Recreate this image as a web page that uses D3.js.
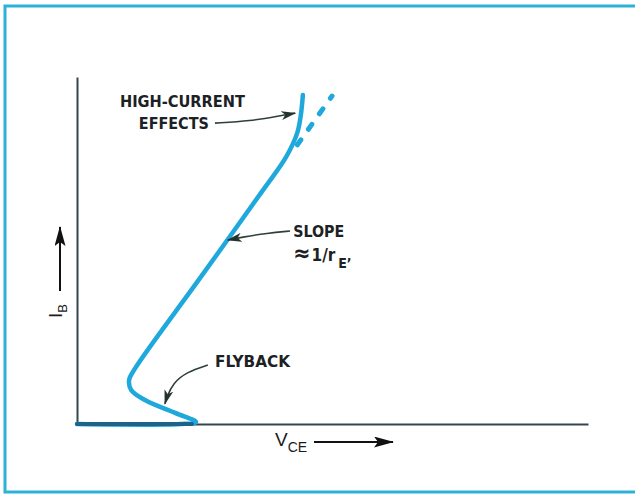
<!DOCTYPE html>
<html>
<head>
<meta charset="utf-8">
<script src="https://cdn.jsdelivr.net/npm/d3@7"></script>
<style>
  body { margin: 0; background: #fff; }
  .lbl { font-family: "DejaVu Sans Condensed", "Liberation Sans", sans-serif; font-weight: bold; fill: #1c2124; }
  .axl { font-family: "Liberation Sans", Arial, sans-serif; fill: #1b1b1b; }
</style>
</head>
<body>
<div id="chart"></div>
<script>
// I_B vs V_CE characteristic, arbitrary units (0..100 on both axes)
var curveV = [0, 20.2, 23.3, 19.2, 13.3, 10.6, 10.2, 11.4, 24.1, 36.4, 40.9, 43.1, 43.8, 44.2];
var curveI = [0, 0, 0.6, 3.2, 6.9, 9.8, 12.7, 16.1, 42.1, 67.4, 76.9, 83.9, 89.0, 94.8];

// the part running along the V_CE axis
var baseV = [0, 22.5];
var baseI = [0, 0];

// straight (ideal) continuation, dashed
var idealV = [42.9, 49.9];
var idealI = [80.0, 94.5];

// annotations
var labels = ["HIGH-CURRENT", "EFFECTS", "SLOPE", "FLYBACK"];
var labelV = [8.4, 12.1, 42.3, 27.0];
var labelI = [91.4, 85.0, 53.9, 16.4];
var labelW = [125, 70, 51, 75];

var arrowEffects = [[27.0, 86.7], [33.9, 87.3], [39.7, 88.8], [42.7, 89.6]];
var arrowSlope = [[41.7, 55.6], [37.2, 55.0], [32.5, 53.9], [29.5, 53.0]];
var arrowFlyback = [[25.6, 17.0], [21.5, 15.0], [18.8, 11.8], [17.6, 7.8], [17.2, 5.8]];

var svgWidth = 635;
var svgHeight = 494;

var chartMargin = { top: 77, right: 47, bottom: 70, left: 77 };
var chartWidth = svgWidth - chartMargin.left - chartMargin.right;
var chartHeight = svgHeight - chartMargin.top - chartMargin.bottom;

var svg = d3.select("#chart")
    .append("svg")
    .attr("width", svgWidth)
    .attr("height", svgHeight);

var defs = svg.append("defs");
defs.append("marker")
    .attr("id", "head")
    .attr("viewBox", "0 0 15 9")
    .attr("refX", 14).attr("refY", 4.5)
    .attr("markerWidth", 15).attr("markerHeight", 9)
    .attr("markerUnits", "userSpaceOnUse")
    .attr("orient", "auto")
    .append("path")
    .attr("d", "M0,0 L15,4.5 L0,9 L4,4.5 Z")
    .attr("fill", "#25332d");
defs.append("marker")
    .attr("id", "bighead")
    .attr("viewBox", "0 0 20 11")
    .attr("refX", 19).attr("refY", 5.5)
    .attr("markerWidth", 20).attr("markerHeight", 11)
    .attr("markerUnits", "userSpaceOnUse")
    .attr("orient", "auto")
    .append("path")
    .attr("d", "M0,0 L20,5.5 L0,11 L4,5.5 Z")
    .attr("fill", "#111");

// frame
svg.append("rect")
    .attr("x", 5).attr("y", 6)
    .attr("width", 640).attr("height", 486)
    .attr("fill", "none")
    .attr("stroke", "#2cb2d8")
    .attr("stroke-width", 3);

var chartGroup = svg.append("g")
    .attr("transform", `translate(${chartMargin.left}, ${chartMargin.top})`);

var xScale = d3.scaleLinear().domain([0, 100]).range([0, chartWidth]);
var yScale = d3.scaleLinear().domain([0, 100]).range([chartHeight, 0]);

chartGroup.append("g")
    .attr("transform", `translate(0, ${chartHeight})`)
    .call(d3.axisBottom(xScale).ticks(0).tickSizeOuter(0));
chartGroup.append("g")
    .call(d3.axisLeft(yScale).ticks(0).tickSizeOuter(0));
chartGroup.selectAll(".domain")
    .attr("stroke", "#34484c")
    .attr("stroke-width", 2);

var line = d3.line()
    .x(d => xScale(d[0]))
    .y(d => yScale(d[1]))
    .curve(d3.curveCatmullRom.alpha(0.5));

var zip = (a, b) => a.map((v, i) => [v, b[i]]);

// main curve
chartGroup.append("path")
    .attr("d", line(zip(curveV, curveI)))
    .attr("fill", "none")
    .attr("stroke", "#1fa8dc")
    .attr("stroke-width", 4.5)
    .attr("stroke-linecap", "round")
    .attr("stroke-linejoin", "round");

// baseline part
chartGroup.append("path")
    .attr("d", line(zip(baseV, baseI)))
    .attr("fill", "none")
    .attr("stroke", "#1d6289")
    .attr("stroke-width", 4)
    .attr("stroke-linecap", "round");

// dashed ideal
chartGroup.append("path")
    .attr("d", line(zip(idealV, idealI)))
    .attr("fill", "none")
    .attr("stroke", "#1fa8dc")
    .attr("stroke-width", 5)
    .attr("stroke-linecap", "round")
    .attr("stroke-dasharray", "6 13")
    .attr("stroke-dashoffset", -2);

// annotation arrows
var arrowLine = d3.line()
    .x(d => xScale(d[0]))
    .y(d => yScale(d[1]))
    .curve(d3.curveBasis);
[arrowEffects, arrowSlope, arrowFlyback].forEach(function(a) {
    chartGroup.append("path")
        .attr("d", arrowLine(a))
        .attr("fill", "none")
        .attr("stroke", "#2f4038")
        .attr("stroke-width", 1.6)
        .attr("marker-end", "url(#head)");
});

// labels
chartGroup.selectAll(".lbl")
    .data(labels)
    .enter()
    .append("text")
    .attr("class", "lbl")
    .attr("x", (d, i) => xScale(labelV[i]))
    .attr("y", (d, i) => yScale(labelI[i]))
    .attr("font-size", 16)
    .attr("textLength", (d, i) => labelW[i])
    .attr("lengthAdjust", "spacingAndGlyphs")
    .text(d => d);

var slopeTxt = chartGroup.append("text")
    .attr("class", "lbl")
    .attr("x", xScale(42.3))
    .attr("y", yScale(47.0))
    .attr("font-size", 17);
slopeTxt.append("tspan").attr("font-size", 23).text("\u2248");
slopeTxt.append("tspan").attr("dx", 1).text("1/r");
slopeTxt.append("tspan").attr("dy", 7).attr("dx", 3).attr("font-size", 14).text("E\u2019");

// axis titles
var ib = svg.append("g")
    .attr("transform", "translate(62, 318) rotate(-90)");
var ibTxt = ib.append("text").attr("class", "axl").attr("font-size", 19);
ibTxt.append("tspan").text("I");
ibTxt.append("tspan").attr("dy", 5).attr("font-size", 13).text("B");
svg.append("line")
    .attr("x1", 60).attr("y1", 291)
    .attr("x2", 60).attr("y2", 227)
    .attr("stroke", "#111")
    .attr("stroke-width", 2)
    .attr("marker-end", "url(#bighead)");

var vce = svg.append("text").attr("class", "axl")
    .attr("x", 275).attr("y", 446).attr("font-size", 19);
vce.append("tspan").text("V");
vce.append("tspan").attr("dy", 6).attr("font-size", 14).text("CE");
svg.append("line")
    .attr("x1", 314).attr("y1", 442)
    .attr("x2", 393).attr("y2", 442)
    .attr("stroke", "#111")
    .attr("stroke-width", 2)
    .attr("marker-end", "url(#bighead)");
</script>
</body>
</html>
